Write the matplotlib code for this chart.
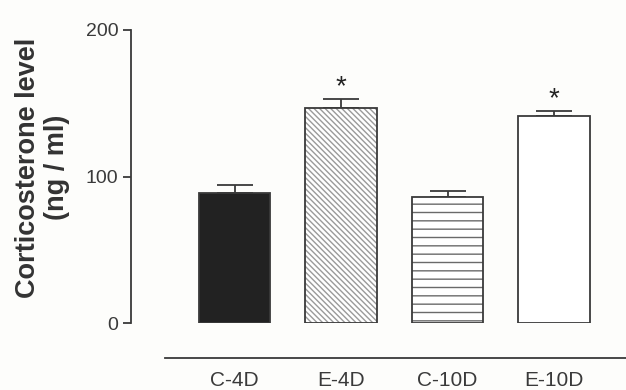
import numpy as np
import matplotlib
matplotlib.use('Agg')
import matplotlib.pyplot as plt

plt.rcParams['font.family'] = ['Liberation Sans', 'DejaVu Sans']
plt.rcParams['hatch.linewidth'] = 1.0

groups = ['C-4D', 'E-4D', 'C-10D', 'E-10D']
means = [89, 147, 86, 141]
sems = [5, 6, 4, 4]
signif = ['', '*', '', '*']

face_colors = ['#222222', 'white', 'white', 'white']
hatches = [None, '\\\\\\\\\\\\', '--', None]
hatch_colors = [None, '#9a9a9a', '#6a6a6a', None]

ink = '#3a3a3a'
bg = '#fdfdfb'

fig = plt.figure(figsize=(6.26, 3.9), dpi=100, facecolor=bg)
ax = fig.add_axes([131 / 626, 67 / 390, 495 / 626, 293 / 390], facecolor=bg)

x = np.arange(len(groups))
for i in range(len(groups)):
    # fill + hatch first, then outline on top
    ax.bar(x[i], means[i], width=0.667, color=face_colors[i],
           edgecolor=hatch_colors[i] or face_colors[i], hatch=hatches[i],
           linewidth=0, zorder=2)
    ax.bar(x[i], means[i], width=0.667, fill=False, edgecolor=ink,
           linewidth=1.3, zorder=3)

ax.errorbar(x, means, yerr=[np.zeros(len(sems)), sems], fmt='none',
            ecolor=ink, elinewidth=1.3, capsize=13, capthick=1.3, zorder=1)

for i, s in enumerate(signif):
    if s:
        ax.annotate(s, (x[i], means[i] + sems[i]), xytext=(0, -1),
                    textcoords='offset points', ha='center', va='bottom',
                    fontsize=20, color='#222222')

ax.set_xlim(-0.972, 3.676)
ax.set_ylim(0, 200)
ax.set_yticks([0, 100, 200])
ax.set_xticks(x)
ax.set_xticklabels(groups)

for side in ['top', 'right']:
    ax.spines[side].set_visible(False)
ax.spines['left'].set_color(ink)
ax.spines['left'].set_linewidth(1.3)
ax.spines['bottom'].set_color(ink)
ax.spines['bottom'].set_linewidth(1.3)
ax.spines['bottom'].set_position(('outward', 25.2))
ax.spines['bottom'].set_bounds(-0.653, 3.676)

ax.tick_params(axis='y', length=6, width=1.3, color=ink, pad=3,
               labelsize=14, labelcolor=ink)
ax.tick_params(axis='x', length=0, pad=9, labelsize=15, labelcolor=ink)

ax.set_ylabel('Corticosterone level\n(ng / ml)', fontsize=19.5, fontweight='bold',
              color='#333333', linespacing=1.15)
ax.yaxis.set_label_coords(-0.123, 0.531)

fig.savefig('out.png', dpi=100, facecolor=bg)
